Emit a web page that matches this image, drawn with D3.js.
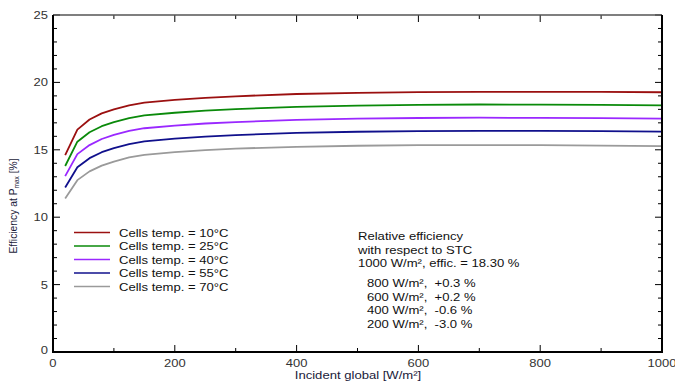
<!DOCTYPE html>
<html><head><meta charset="utf-8">
<script src="https://cdn.jsdelivr.net/npm/d3@7"></script>
<style>body{margin:0;background:#fff}svg{display:block}text{font-family:"Liberation Sans",Arial,sans-serif;white-space:pre}</style>
</head><body><svg id="c" width="675" height="382"></svg>
<script>
const irradiance = [20,40,60,80,100,125,150,200,250,300,400,500,600,700,800,900,1000];
const eff10 = [14.6,16.5,17.25,17.7,18.0,18.3,18.5,18.7,18.85,18.97,19.14,19.23,19.28,19.3,19.3,19.29,19.27];
const eff25 = [13.8,15.6,16.3,16.75,17.05,17.35,17.55,17.75,17.9,18.02,18.19,18.28,18.34,18.36,18.35,18.33,18.30];
const eff40 = [13.05,14.68,15.35,15.8,16.1,16.4,16.6,16.8,16.95,17.06,17.22,17.31,17.36,17.38,17.37,17.35,17.32];
const eff55 = [12.2,13.7,14.38,14.82,15.12,15.42,15.62,15.83,15.98,16.09,16.25,16.34,16.39,16.41,16.4,16.38,16.35];
const eff70 = [11.38,12.75,13.4,13.83,14.13,14.43,14.63,14.83,14.98,15.09,15.22,15.3,15.34,15.35,15.34,15.31,15.28];
const seriesNames = ["Cells temp. = 10°C","Cells temp. = 25°C","Cells temp. = 40°C","Cells temp. = 55°C","Cells temp. = 70°C"];
const seriesColors = ["#9b1010","#0a8a0a","#9a28ff","#10108c","#9a9a9a"];
const xTicks = [0,200,400,600,800,1000];
const yTicks = [0,5,10,15,20,25];
const noteLines = ["Relative efficiency","with respect to STC","1000 W/m², effic. = 18.30 %"];
const relLines = ["800 W/m²,  +0.3 %","600 W/m²,  +0.2 %","400 W/m²,  -0.6 %","200 W/m²,  -3.0 %"];

const series = [eff10,eff25,eff40,eff55,eff70];
const svg = d3.select("#c");
const L=53, R=662, T=15, B=352;
const x = d3.scaleLinear().domain([0,1000]).range([L,R]);
const y = d3.scaleLinear().domain([0,25]).range([B,T]);
const tc = "#333";
function stretch(sel,k){
  const n = sel.node(); const len = n.getComputedTextLength();
  sel.attr("textLength",len*k).attr("lengthAdjust","spacingAndGlyphs");
  return sel;
}

const g = svg.append("g").attr("stroke","#000").attr("stroke-width",1);
d3.range(0,1001,100).forEach(v=>{
  const len = v%200===0?7:4;
  g.append("line").attr("x1",x(v)).attr("x2",x(v)).attr("y1",B).attr("y2",B-len);
  g.append("line").attr("x1",x(v)).attr("x2",x(v)).attr("y1",T).attr("y2",T+len);
});
d3.range(0,26,1).forEach(v=>{
  const len = v%5===0?7:4;
  g.append("line").attr("y1",y(v)).attr("y2",y(v)).attr("x1",L).attr("x2",L+len);
  g.append("line").attr("y1",y(v)).attr("y2",y(v)).attr("x1",R).attr("x2",R-len);
});

const line = d3.line().x((d,i)=>x(irradiance[i])).y(d=>y(d));
series.forEach((s,k)=>{
  svg.append("path").datum(s).attr("d",line).attr("fill","none")
    .attr("stroke",seriesColors[k]).attr("stroke-width",1.8).attr("stroke-linejoin","round");
});

svg.append("line").attr("x1",L).attr("x2",R).attr("y1",T).attr("y2",T).attr("stroke","#555").attr("stroke-width",1.5);
svg.append("path").attr("d",`M${L},${T}V${B}H${R}V${T}`).attr("fill","none").attr("stroke","#000").attr("stroke-width",2);

xTicks.forEach(v=>stretch(svg.append("text").attr("x",x(v)).attr("y",B+15).attr("text-anchor","middle")
  .attr("font-size",11).attr("fill",tc).text(v),1.18));
yTicks.forEach(v=>stretch(svg.append("text").attr("x",L-5).attr("y",y(v)+(v===0?2:4)).attr("text-anchor","end")
  .attr("font-size",11).attr("fill",tc).text(v),1.18));

stretch(svg.append("text").attr("x",358).attr("y",379).attr("text-anchor","middle").attr("font-size",10.3).attr("fill","#1a1a3a")
  .text("Incident global [W/m²]"),1.27);
const yl = svg.append("text").attr("transform","translate(17,206) rotate(-90)").attr("text-anchor","middle")
  .attr("font-size",10.3).attr("fill","#1a1a3a");
yl.append("tspan").text("Efficiency at P");
yl.append("tspan").attr("font-size",6.5).attr("dy",2).text("max");
yl.append("tspan").attr("dy",-2).text(" [%]");

seriesNames.forEach((n,k)=>{
  const yy = 232.5 + k*13.5;
  svg.append("line").attr("x1",74).attr("x2",110).attr("y1",yy).attr("y2",yy).attr("stroke",seriesColors[k]).attr("stroke-width",1.3);
  stretch(svg.append("text").attr("x",119).attr("y",yy+4).attr("font-size",10.3).attr("fill","#111").text(n),1.27);
});

noteLines.forEach((t,i)=>stretch(svg.append("text").attr("x",358).attr("y",240+i*13.5).attr("font-size",10.3).attr("fill","#111").text(t),1.27));
relLines.forEach((t,i)=>stretch(svg.append("text").attr("x",367).attr("y",287+i*13.5).attr("font-size",10.3).attr("fill","#111").text(t),1.27));
</script></body></html>
